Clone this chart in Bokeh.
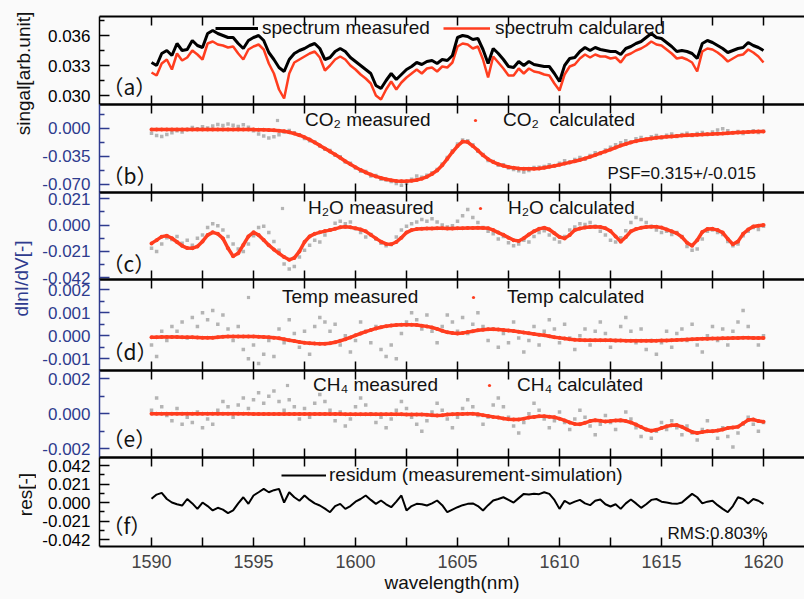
import numpy as np
from bokeh.plotting import figure
from bokeh.models import (Range1d, LinearAxis, FixedTicker, PrintfTickFormatter,
                          Legend, LegendItem, Label)
from bokeh.layouts import column, row
from bokeh.embed import file_html
from bokeh.resources import INLINE

# ---------------- data ----------------
wavelength = np.round(np.arange(1590.0, 1620.001, 0.25), 2)

spec_measured = [
    0.0333, 0.0330, 0.0342, 0.0345, 0.0340, 0.0352, 0.0345, 0.0346,
    0.0355, 0.0350, 0.0348, 0.0362, 0.0365, 0.0362, 0.0360, 0.0358,
    0.0358, 0.0352, 0.0347, 0.0355, 0.0358, 0.0360, 0.0355, 0.0343,
    0.0336, 0.0328, 0.0324, 0.0336, 0.0342, 0.0345, 0.0347, 0.0350,
    0.0352, 0.0347, 0.0336, 0.0338, 0.0344, 0.0347, 0.0344, 0.0338,
    0.0334, 0.0330, 0.0326, 0.0322, 0.0310, 0.0307, 0.0315, 0.0322,
    0.0316, 0.0321, 0.0326, 0.0329, 0.0333, 0.0331, 0.0334, 0.0335,
    0.0332, 0.0336, 0.0335, 0.0340, 0.0358, 0.0360, 0.0359, 0.0356,
    0.0357, 0.0346, 0.0332, 0.0347, 0.0342, 0.0336, 0.0329, 0.0328,
    0.0334, 0.0330, 0.0334, 0.0331, 0.0330, 0.0329, 0.0329, 0.0322,
    0.0314, 0.0330, 0.0337, 0.0338, 0.0344, 0.0348, 0.0345, 0.0348,
    0.0346, 0.0345, 0.0344, 0.0344, 0.0341, 0.0347, 0.0349, 0.0352,
    0.0354, 0.0358, 0.0362, 0.0358, 0.0357, 0.0353, 0.0349, 0.0344,
    0.0345, 0.0344, 0.0342, 0.0337, 0.0352, 0.0355, 0.0353, 0.0350,
    0.0347, 0.0343, 0.0345, 0.0347, 0.0348, 0.0353, 0.0350, 0.0348,
    0.0345]

spec_calculated = [
    0.0323, 0.0320, 0.0332, 0.0336, 0.0326, 0.0342, 0.0335, 0.0338,
    0.0345, 0.0341, 0.0336, 0.0352, 0.0354, 0.0351, 0.0350, 0.0348,
    0.0349, 0.0342, 0.0336, 0.0346, 0.0349, 0.0351, 0.0346, 0.0332,
    0.0322, 0.0306, 0.0297, 0.0322, 0.0333, 0.0336, 0.0339, 0.0342,
    0.0344, 0.0338, 0.0325, 0.0330, 0.0336, 0.0339, 0.0336, 0.0330,
    0.0326, 0.0321, 0.0317, 0.0312, 0.0300, 0.0296, 0.0306, 0.0314,
    0.0306, 0.0313, 0.0318, 0.0322, 0.0326, 0.0322, 0.0327, 0.0328,
    0.0324, 0.0329, 0.0328, 0.0333, 0.0349, 0.0352, 0.0351, 0.0347,
    0.0349, 0.0336, 0.0318, 0.0339, 0.0333, 0.0327, 0.0320, 0.0320,
    0.0327, 0.0322, 0.0327, 0.0324, 0.0323, 0.0321, 0.0320, 0.0312,
    0.0305, 0.0321, 0.0329, 0.0331, 0.0337, 0.0341, 0.0338, 0.0341,
    0.0339, 0.0339, 0.0337, 0.0338, 0.0333, 0.0340, 0.0342, 0.0345,
    0.0347, 0.0350, 0.0354, 0.0351, 0.0350, 0.0346, 0.0342, 0.0337,
    0.0338, 0.0336, 0.0333, 0.0324, 0.0344, 0.0347, 0.0346, 0.0343,
    0.0339, 0.0334, 0.0337, 0.0340, 0.0341, 0.0346, 0.0343, 0.0339,
    0.0333]

co2_calculated = [
    -0.0020, -0.0020, -0.0020, -0.0020, -0.0020, -0.0020, -0.0020, -0.0020,
    -0.0020, -0.0020, -0.0020, -0.0020, -0.0020, -0.0020, -0.0020, -0.0020,
    -0.0020, -0.0020, -0.0020, -0.0020, -0.0020, -0.0021, -0.0022, -0.0025,
    -0.0028, -0.0033, -0.0040, -0.0053, -0.0070, -0.0090, -0.0115, -0.0145,
    -0.0180, -0.0217, -0.0255, -0.0292, -0.0330, -0.0372, -0.0415, -0.0453,
    -0.0490, -0.0524, -0.0555, -0.0582, -0.0605, -0.0624, -0.0640, -0.0653,
    -0.0662, -0.0665, -0.0665, -0.0660, -0.0650, -0.0633, -0.0610, -0.0575,
    -0.0530, -0.0465, -0.0385, -0.0300, -0.0225, -0.0170, -0.0175, -0.0225,
    -0.0280, -0.0340, -0.0390, -0.0425, -0.0452, -0.0472, -0.0488, -0.0498,
    -0.0505, -0.0509, -0.0510, -0.0509, -0.0505, -0.0496, -0.0485, -0.0473,
    -0.0460, -0.0445, -0.0430, -0.0415, -0.0400, -0.0380, -0.0360, -0.0338,
    -0.0315, -0.0292, -0.0270, -0.0245, -0.0220, -0.0200, -0.0180, -0.0164,
    -0.0150, -0.0140, -0.0130, -0.0122, -0.0115, -0.0110, -0.0105, -0.0100,
    -0.0095, -0.0091, -0.0088, -0.0085, -0.0082, -0.0078, -0.0075, -0.0071,
    -0.0068, -0.0064, -0.0060, -0.0056, -0.0053, -0.0050, -0.0047, -0.0044,
    -0.0042]

co2_measured = [
    -0.0065, -0.0095, -0.0105, -0.0080, -0.0060, -0.0035, -0.0050, -0.0020,
    0.0005, -0.0010, 0.0015, 0.0000, 0.0025, 0.0045, 0.0030, 0.0050,
    0.0035, 0.0020, 0.0040, 0.0010, -0.0035, -0.0075, -0.0100, -0.0125,
    -0.0110, -0.0085, -0.0050, -0.0030, -0.0060, -0.0085, -0.0130, -0.0160,
    -0.0175, -0.0225, -0.0265, -0.0280, -0.0340, -0.0360, -0.0425, -0.0440,
    -0.0500, -0.0540, -0.0545, -0.0600, -0.0595, -0.0640, -0.0650, -0.0670,
    -0.0695, -0.0715, -0.0690, -0.0640, -0.0600, -0.0615, -0.0590, -0.0560,
    -0.0520, -0.0450, -0.0370, -0.0285, -0.0200, -0.0150, -0.0160, -0.0210,
    -0.0290, -0.0330, -0.0405, -0.0420, -0.0465, -0.0460, -0.0500, -0.0520,
    -0.0535, -0.0550, -0.0530, -0.0495, -0.0490, -0.0480, -0.0460, -0.0475,
    -0.0440, -0.0410, -0.0425, -0.0395, -0.0370, -0.0390, -0.0345, -0.0310,
    -0.0320, -0.0275, -0.0240, -0.0210, -0.0185, -0.0160, -0.0175, -0.0135,
    -0.0120, -0.0145, -0.0110, -0.0095, -0.0125, -0.0090, -0.0075, -0.0105,
    -0.0080, -0.0065, -0.0095, -0.0070, -0.0055, -0.0080, -0.0050, -0.0025,
    -0.0010, -0.0035, -0.0060, -0.0045, -0.0070, -0.0050, -0.0035, -0.0055,
    -0.0040]

h2o_calculated = [
    -0.0146, -0.0120, -0.0092, -0.0085, -0.0105, -0.0135, -0.0165, -0.0183,
    -0.0185, -0.0170, -0.0130, -0.0080, -0.0058, -0.0070, -0.0106, -0.0185,
    -0.0248, -0.0225, -0.0158, -0.0090, -0.0058, -0.0080, -0.0119, -0.0160,
    -0.0195, -0.0225, -0.0255, -0.0277, -0.0262, -0.0210, -0.0135, -0.0090,
    -0.0070, -0.0058, -0.0048, -0.0040, -0.0030, -0.0018, -0.0013, -0.0018,
    -0.0025, -0.0035, -0.0050, -0.0078, -0.0106, -0.0132, -0.0150, -0.0153,
    -0.0135, -0.0100, -0.0060, -0.0040, -0.0032, -0.0030, -0.0028, -0.0027,
    -0.0026, -0.0026, -0.0027, -0.0027, -0.0026, -0.0025, -0.0024, -0.0023,
    -0.0022, -0.0023, -0.0025, -0.0040, -0.0060, -0.0078, -0.0100, -0.0120,
    -0.0127, -0.0105, -0.0075, -0.0050, -0.0030, -0.0021, -0.0035, -0.0065,
    -0.0095, -0.0106, -0.0080, -0.0040, -0.0027, -0.0020, -0.0015, -0.0013,
    -0.0015, -0.0025, -0.0048, -0.0090, -0.0132, -0.0095, -0.0050, -0.0032,
    -0.0022, -0.0016, -0.0013, -0.0013, -0.0020, -0.0035, -0.0050, -0.0066,
    -0.0095, -0.0140, -0.0164, -0.0120, -0.0055, -0.0032, -0.0030, -0.0040,
    -0.0060, -0.0110, -0.0153, -0.0130, -0.0070, -0.0035, -0.0012, -0.0005,
    0.0000]

h2o_measured = [
    -0.0185, -0.0210, -0.0150, -0.0100, -0.0115, -0.0090, -0.0145, -0.0120,
    -0.0160, -0.0105, -0.0080, -0.0020, 0.0010, -0.0005, -0.0040, -0.0090,
    -0.0150, -0.0190, -0.0210, -0.0150, -0.0085, -0.0020, -0.0010, -0.0060,
    -0.0130, -0.0200, -0.0310, -0.0350, -0.0330, -0.0255, -0.0200, -0.0160,
    -0.0120, -0.0135, -0.0080, -0.0040, 0.0015, 0.0030, 0.0010, 0.0025,
    -0.0030, -0.0060, -0.0095, -0.0075, -0.0110, -0.0145, -0.0165, -0.0155,
    -0.0095, -0.0040, -0.0010, 0.0010, 0.0025, 0.0045, 0.0030, 0.0050,
    0.0025, 0.0000, -0.0015, -0.0005, 0.0030, 0.0075, 0.0125, 0.0060,
    0.0020, -0.0020, -0.0050, -0.0070, -0.0110, -0.0090, -0.0140, -0.0165,
    -0.0150, -0.0120, -0.0135, -0.0090, -0.0060, -0.0045, -0.0080, -0.0110,
    -0.0135, -0.0090, -0.0040, -0.0015, 0.0010, 0.0005, 0.0020, -0.0010,
    -0.0050, -0.0080, -0.0120, -0.0135, -0.0100, -0.0045, 0.0020, 0.0060,
    0.0045, 0.0020, -0.0010, -0.0040, -0.0060, -0.0050, -0.0075, -0.0060,
    -0.0090, -0.0170, -0.0200, -0.0190, -0.0110, -0.0050, -0.0040, -0.0060,
    -0.0075, -0.0130, -0.0165, -0.0150, -0.0085, -0.0050, -0.0020, -0.0035,
    -0.0010]

temp_calculated = [
    -0.00006, -0.00006, -0.00005, -0.00005, -0.00005, -0.00005, -0.00006, -0.00006,
    -0.00006, -0.00007, -0.00008, -0.00008, -0.00008, -0.00006, -0.00004, -0.00003,
    -0.00003, -0.00003, -0.00003, -0.00003, -0.00003, -0.00004, -0.00005, -0.00006,
    -0.00008, -0.00011, -0.00015, -0.00019, -0.00023, -0.00027, -0.00030, -0.00032,
    -0.00034, -0.00035, -0.00035, -0.00032, -0.00028, -0.00022, -0.00015, -0.00007,
    0.00002, 0.00010, 0.00018, 0.00025, 0.00032, 0.00037, 0.00042, 0.00045,
    0.00047, 0.00048, 0.00048, 0.00048, 0.00047, 0.00044, 0.00041, 0.00036,
    0.00030, 0.00022, 0.00015, 0.00012, 0.00010, 0.00012, 0.00016, 0.00020,
    0.00024, 0.00026, 0.00028, 0.00028, 0.00027, 0.00025, 0.00023, 0.00021,
    0.00018, 0.00014, 0.00011, 0.00008, 0.00005, 0.00002, -0.00002, -0.00006,
    -0.00009, -0.00012, -0.00015, -0.00017, -0.00018, -0.00019, -0.00019, -0.00019,
    -0.00019, -0.00019, -0.00019, -0.00020, -0.00020, -0.00021, -0.00021, -0.00021,
    -0.00021, -0.00021, -0.00021, -0.00021, -0.00020, -0.00020, -0.00019, -0.00018,
    -0.00017, -0.00016, -0.00015, -0.00014, -0.00013, -0.00013, -0.00012, -0.00012,
    -0.00011, -0.00011, -0.00010, -0.00010, -0.00009, -0.00009, -0.00010, -0.00010,
    -0.00010]

temp_measured = [
    -0.0004, -0.0009, 0.0002, -0.0002, 0.0004, 0.0002, 0.0006, -0.0001,
    0.0008, 0.0004, 0.0010, 0.0007, 0.0011, 0.0005, 0.0009, 0.0003,
    -0.0002, 0.0004, -0.0006, -0.0010, -0.0004, -0.0012, -0.0008, -0.0002,
    -0.0009, 0.0003, -0.0003, 0.0007, 0.0001, -0.0005, 0.0002, -0.0008,
    0.0004, 0.0008, 0.0006, 0.0002, 0.0005, -0.0004, 0.0000, -0.0007,
    -0.0002, 0.0006, 0.0002, -0.0003, 0.0004, -0.0006, -0.0009, -0.0004,
    -0.0010, 0.0001, 0.0006, 0.0010, 0.0007, 0.0003, 0.0009, 0.0002,
    -0.0003, 0.0004, 0.0009, 0.0006, 0.0002, 0.0008, 0.0001, 0.0005,
    0.0010, 0.0004, -0.0002, 0.0003, -0.0005, 0.0001, -0.0003, 0.0006,
    -0.0001, -0.0007, -0.0002, 0.0004, -0.0004, 0.0002, 0.0007, 0.0003,
    -0.0003, 0.0005, -0.0001, -0.0006, 0.0000, 0.0003, -0.0004, 0.0002,
    0.0006, 0.0001, -0.0005, -0.0002, 0.0004, 0.0008, 0.0002, -0.0003,
    0.0003, -0.0006, -0.0002, -0.0008, -0.0003, 0.0002, -0.0005, 0.0001,
    0.0003, -0.0002, 0.0005, -0.0004, -0.0007, 0.0000, 0.0004, -0.0002,
    0.0003, -0.0004, 0.0002, 0.0006, 0.0011, 0.0004, -0.0001, -0.0004,
    0.0000]

ch4_calculated = [
    0.00000, 0.00000, 0.00000, 0.00000, 0.00000, 0.00000, 0.00000, 0.00000,
    0.00000, 0.00000, 0.00000, 0.00000, 0.00000, 0.00000, 0.00000, 0.00000,
    0.00000, 0.00000, 0.00000, 0.00000, -0.00001, -0.00001, -0.00001, -0.00001,
    -0.00001, -0.00001, -0.00001, -0.00001, -0.00001, -0.00001, -0.00001, -0.00002,
    -0.00002, -0.00002, -0.00002, -0.00002, -0.00002, -0.00002, -0.00003, -0.00003,
    -0.00003, -0.00003, -0.00003, -0.00003, -0.00003, -0.00003, -0.00003, -0.00003,
    -0.00003, -0.00003, -0.00004, -0.00004, -0.00004, -0.00005, -0.00006, -0.00008,
    -0.00010, -0.00008, -0.00005, -0.00003, -0.00002, -0.00002, 0.00000, 0.00000,
    -0.00003, -0.00008, -0.00013, -0.00018, -0.00022, -0.00027, -0.00031, -0.00033,
    -0.00033, -0.00028, -0.00022, -0.00018, -0.00015, -0.00015, -0.00017, -0.00020,
    -0.00028, -0.00038, -0.00050, -0.00058, -0.00060, -0.00052, -0.00042, -0.00037,
    -0.00040, -0.00045, -0.00042, -0.00038, -0.00037, -0.00042, -0.00050, -0.00062,
    -0.00076, -0.00090, -0.00097, -0.00092, -0.00082, -0.00072, -0.00066, -0.00065,
    -0.00075, -0.00090, -0.00104, -0.00110, -0.00105, -0.00100, -0.00100, -0.00096,
    -0.00090, -0.00082, -0.00078, -0.00074, -0.00055, -0.00036, -0.00033, -0.00042,
    -0.00046]

ch4_measured = [
    0.0002, 0.0009, 0.0004, -0.0001, -0.0004, 0.0003, -0.0006, -0.0002,
    -0.0005, 0.0001, -0.0008, -0.0003, -0.0006, 0.0002, 0.0007, 0.0004,
    -0.0002, 0.0005, 0.0009, 0.0003, 0.0008, 0.0012, 0.0006, 0.0010,
    0.0013, 0.0007, 0.0002, 0.0008, 0.0004, -0.0003, 0.0003, -0.0002,
    0.0006, 0.0011, 0.0007, 0.0002, -0.0004, 0.0001, -0.0007, -0.0003,
    0.0004, 0.0009, 0.0005, 0.0000, -0.0005, -0.0002, -0.0008, -0.0003,
    0.0002, 0.0007, 0.0003, -0.0002, -0.0006, -0.0010, -0.0004, 0.0001,
    0.0006, 0.0002, -0.0003, -0.0008, -0.0002, 0.0003, 0.0008, 0.0004,
    -0.0001, -0.0006, -0.0002, 0.0005, 0.0009, 0.0004, -0.0002, -0.0007,
    -0.0011, -0.0005, 0.0000, 0.0006, 0.0002, -0.0003, -0.0008, -0.0004,
    0.0001, -0.0005, -0.0009, -0.0003, 0.0002, -0.0002, -0.0007, -0.0012,
    -0.0006, -0.0001, -0.0005, -0.0009, -0.0004, 0.0001, -0.0003, -0.0008,
    -0.0013, -0.0009, -0.0014, -0.0010, -0.0005, -0.0009, -0.0004, -0.0008,
    -0.0012, -0.0007, -0.0011, -0.0015, -0.0009, -0.0004, -0.0010, -0.0014,
    -0.0008, -0.0013, -0.0019, -0.0011, -0.0006, -0.0002, -0.0006, -0.0010,
    -0.0005]

residual = [
    0.0042, 0.0090, 0.0110, 0.0040, 0.0000, -0.0020, -0.0034, 0.0040,
    -0.0010, -0.0072, 0.0000, -0.0040, -0.0090, -0.0060, -0.0080, -0.0120,
    -0.0090, -0.0010, 0.0060, -0.0015, 0.0080, 0.0117, 0.0155, 0.0117,
    0.0140, 0.0155, 0.0000, 0.0117, 0.0060, 0.0020, 0.0080, 0.0030,
    -0.0010, -0.0034, -0.0070, -0.0110, -0.0040, -0.0015, -0.0072, -0.0040,
    0.0010, 0.0040, 0.0080, 0.0030, -0.0015, 0.0023, -0.0020, -0.0053,
    0.0010, 0.0080, -0.0090, -0.0040, -0.0015, -0.0020, -0.0034, -0.0010,
    0.0023, -0.0030, -0.0110, -0.0080, -0.0053, -0.0030, -0.0015, -0.0010,
    -0.0040, -0.0090, -0.0030, 0.0023, 0.0040, 0.0060, 0.0030, 0.0000,
    0.0050, 0.0098, 0.0090, 0.0100, 0.0095, 0.0117, 0.0098, 0.0030,
    -0.0072, 0.0020, -0.0015, 0.0010, 0.0030, -0.0010, -0.0030, 0.0020,
    0.0035, -0.0020, -0.0045, -0.0020, -0.0072, -0.0010, 0.0035, -0.0010,
    -0.0060, -0.0020, 0.0030, 0.0040, 0.0010, 0.0000, -0.0010, -0.0015,
    0.0000, 0.0050, 0.0098, 0.0060, -0.0010, 0.0010, 0.0020, -0.0030,
    -0.0072, -0.0110, -0.0040, 0.0060, 0.0040, -0.0010, 0.0040, 0.0020,
    -0.0015]

x_major = [1590, 1595, 1600, 1605, 1610, 1615, 1620]
x_minor = [1592.5, 1597.5, 1602.5, 1607.5, 1612.5, 1617.5]

ticks_a = [0.030, 0.033, 0.036]
minor_a = [0.0315, 0.0345, 0.0375]
ticks_b = [-0.070, -0.035, 0.000]
minor_b = [-0.0525, -0.0175, 0.0175]
ticks_c = [-0.042, -0.021, 0.000, 0.021]
minor_c = [-0.0315, -0.0105, 0.0105]
ticks_d = [-0.001, 0.000, 0.001, 0.002]
minor_d = [-0.0005, 0.0005, 0.0015]
ticks_e = [-0.002, 0.000, 0.002]
minor_e = [-0.001, 0.001]
ticks_f = [-0.042, -0.021, 0.000, 0.021, 0.042]
minor_f = [-0.0315, -0.0105, 0.0105, 0.0315]

# ---------------- style ----------------
FONT = "Liberation Sans"
BLUE = "#2e3b8e"
RED = "#ff3d1f"
GRAY = "#b4b4b4"
BG = "#fafafa"
FRAME_W = 705
XR = (1587.45, 1622.01)
E = 12  # extra border so edge tick labels are not clipped (overlapped via margin)


def make_panel(yr, fh, ticks, minor, color, top=E, bottom=E, xlabels=False,
               first=False):
    kw = {} if first else {"margin": (-2 * E, 0, 0, 0)}
    p = figure(frame_width=FRAME_W, frame_height=fh,
               x_range=Range1d(*XR), y_range=Range1d(*yr),
               toolbar_location=None, output_backend="svg",
               x_axis_location=None, y_axis_location=None,
               min_border_left=63, min_border_right=0,
               min_border_top=top, min_border_bottom=bottom,
               background_fill_color=None, border_fill_color=None,
               outline_line_color=None, **kw)
    p.xgrid.visible = False
    p.ygrid.visible = False

    left = LinearAxis(ticker=FixedTicker(ticks=ticks, minor_ticks=minor),
                      formatter=PrintfTickFormatter(format="%.3f"),
                      major_tick_in=10, major_tick_out=0,
                      minor_tick_in=5, minor_tick_out=0,
                      axis_line_color=color, axis_line_width=1.5,
                      major_tick_line_color=color, minor_tick_line_color=color,
                      major_tick_line_width=1.5, minor_tick_line_width=1.5,
                      major_label_text_color=color,
                      major_label_text_font=FONT,
                      major_label_text_font_size="17px",
                      major_label_standoff=9)
    p.add_layout(left, "left")

    def xaxis(labels):
        ax = LinearAxis(ticker=FixedTicker(ticks=x_major, minor_ticks=x_minor),
                        major_tick_in=9, major_tick_out=0,
                        minor_tick_in=9, minor_tick_out=0,
                        axis_line_width=2, major_tick_line_width=1.5,
                        minor_tick_line_width=1.5,
                        major_label_text_font=FONT)
        if labels:
            ax.major_label_text_font_size = "18px"
            ax.major_label_standoff = 8
            ax.axis_label = "wavelength(nm)"
            ax.axis_label_text_font = FONT
            ax.axis_label_text_font_size = "19px"
            ax.axis_label_text_font_style = "normal"
            ax.axis_label_text_color = "#111111"
            ax.axis_label_standoff = 1
        else:
            ax.major_label_text_font_size = "0px"
            ax.major_label_text_color = None
            ax.major_label_standoff = 0
        return ax

    p.add_layout(xaxis(False), "above")
    p.add_layout(xaxis(xlabels), "below")
    return p


def add_legend(p, r, text, x, y, gw, standoff):
    lg = Legend(items=[LegendItem(label=text, renderers=[r])], location=(x, y),
                padding=0, margin=0, spacing=0, glyph_width=gw, glyph_height=20,
                label_standoff=standoff, label_height=20,
                label_text_font=FONT, label_text_font_size="19px",
                label_text_color="#111111",
                background_fill_alpha=0, border_line_alpha=0)
    p.add_layout(lg)


def panel_label(p, text, y=5):
    p.add_layout(Label(x=3, y=y, x_units="screen", y_units="screen", text=text,
                       text_font="Noto Sans CJK SC", text_font_size="21px",
                       text_color="#111111", text_baseline="bottom"))


def meas_calc(p, meas, calc):
    rm = p.scatter(wavelength, meas, marker="square", size=3.5,
                   fill_color=GRAY, line_color=None)
    p.line(wavelength, calc, line_color=RED, line_width=3.5)
    rc = p.scatter(wavelength, calc, marker="circle", size=4,
                   fill_color=RED, line_color=None)
    return rm, rc


# ---- (a) spectrum ----
pa = make_panel((0.0291, 0.0379), 88, ticks_a, minor_a, "#000000", top=16,
                first=True)
r_calc = pa.line(wavelength, spec_calculated, line_color=RED, line_width=2.5)
r_meas = pa.line(wavelength, spec_measured, line_color="#000000", line_width=3)
add_legend(pa, r_meas, "spectrum measured", 116, 65, 43, 4)
add_legend(pa, r_calc, "spectrum calculared", 344, 65, 47, 5)
panel_label(pa, "（a）", 4)

# ---- (b) CO2 ----
pb = make_panel((-0.0806, 0.0294), 88, ticks_b, minor_b, BLUE)
rm, rc = meas_calc(pb, co2_measured, co2_calculated)
add_legend(pb, rm, "CO₂ measured", 174, 61, 8, 24)
add_legend(pb, rc, "CO₂  calculated", 372, 61, 8, 24)
pb.add_layout(Label(x=508, y=19, x_units="screen", y_units="screen",
                    text="PSF=0.315+/-0.015", text_font=FONT,
                    text_font_size="17px", text_color="#111111",
                    text_baseline="middle"))
panel_label(pb, "（b）", 3)

# ---- (c) H2O ----
pc = make_panel((-0.0434, 0.0260), 87, ticks_c, minor_c, BLUE)
rm, rc = meas_calc(pc, h2o_measured, h2o_calculated)
add_legend(pc, rm, "H₂O measured", 179, 60, 8, 22)
add_legend(pc, rc, "H₂O calculated", 377, 60, 8, 24)
panel_label(pc, "（c）", 2)

# ---- (d) Temp ----
pd = make_panel((-0.00151, 0.00245), 91, ticks_d, minor_d, BLUE)
rm, rc = meas_calc(pd, temp_measured, temp_calculated)
add_legend(pd, rm, "Temp measured", 145, 62, 8, 30)
add_legend(pd, rc, "Temp calculated", 370, 62, 8, 30)
panel_label(pd, "（d）", 5)

# ---- (e) CH4 ----
pe = make_panel((-0.0025, 0.00247), 87, ticks_e, minor_e, BLUE)
rm, rc = meas_calc(pe, ch4_measured, ch4_calculated)
add_legend(pe, rm, "CH₄ measured", 184, 61, 8, 22)
add_legend(pe, rc, "CH₄ calculated", 386, 61, 8, 24)
panel_label(pe, "（e）", 5)

# ---- (f) residual ----
pf = make_panel((-0.0499, 0.0511), 89, ticks_f, minor_f, "#000000",
                bottom=53, xlabels=True)
rr = pf.line(wavelength, residual, line_color="#000000", line_width=2)
add_legend(pf, rr, "residum (measurement-simulation)", 182, 60, 45, 3)
pf.add_layout(Label(x=568, y=13, x_units="screen", y_units="screen",
                    text="RMS:0.803%", text_font=FONT, text_font_size="17px",
                    text_color="#111111", text_baseline="middle"))
panel_label(pf, "（f）", 7)

# ---- left strip with y-axis titles ----
ps = figure(width=36, height=599, x_range=Range1d(0, 36), y_range=Range1d(0, 599),
            toolbar_location=None, output_backend="svg",
            x_axis_location=None, y_axis_location=None, min_border=0,
            background_fill_color=None, border_fill_color=None,
            outline_line_color=None)
ps.xgrid.visible = False
ps.ygrid.visible = False
for txt, xx, yy, col in [("singal[arb.unit]", 23, 526, "#111111"),
                         ("dlnI/dV[-]", 21, 321, BLUE),
                         ("res[-]", 25, 105, "#111111")]:
    ps.add_layout(Label(x=xx, y=yy, x_units="screen", y_units="screen", text=txt,
                        angle=90, angle_units="deg", text_align="center",
                        text_baseline="middle", text_font=FONT,
                        text_font_size="19px", text_color=col))

layout = row(ps, column(pa, pb, pc, pd, pe, pf, spacing=0), spacing=0,
             styles={"background-color": BG})

open("out.html", "w").write(file_html(layout, INLINE))
